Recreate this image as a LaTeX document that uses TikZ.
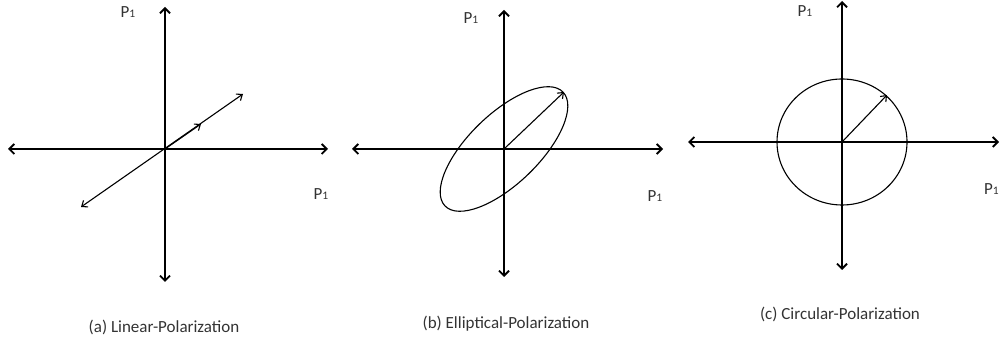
\documentclass[tikz,border=0pt]{standalone}
\usepackage{fontspec}
\setmainfont{Carlito}
\usetikzlibrary{arrows.meta}
\tikzset{
  axis/.style={line width=1.8pt,{Straight Barb[length=5pt,width=10pt]}-{Straight Barb[length=5pt,width=10pt]}},
  vec/.style={line width=1.1pt,-{Straight Barb[length=5pt,width=8pt]}},
  dvec/.style={line width=1.1pt,{Straight Barb[length=5pt,width=8pt]}-{Straight Barb[length=5pt,width=8pt]}},
  curve/.style={line width=1.1pt},
  lbl/.style={anchor=base,inner sep=0pt,text=black!80,font=\fontsize{17}{19}\selectfont},
}
\newcommand{\Pone}{P{\fontsize{11.5}{12}\selectfont 1}}
\begin{document}
\begin{tikzpicture}[x=1pt,y=1pt]
\useasboundingbox (0,0) rectangle (1000,344);
% panel a
\coordinate (a0) at (165,195);
\coordinate (at) at (165,337);
\coordinate (ab) at (165,62);
\coordinate (al) at (8,195);
\coordinate (ar) at (328,195);
\coordinate (aur) at (243,250);
\coordinate (adl) at (81,137);
\coordinate (amid) at (201,220);
\draw[axis] (ab) -- (at);
\draw[axis] (al) -- (ar);
\draw[dvec] (adl) -- (aur);
\draw[vec] (a0) -- (amid);
\node[lbl] (aP1) at (128,326) {\Pone};
\node[lbl] (aP2) at (321,144) {\Pone};
\node[lbl] (acap) at (164,11) {(a) Linear-Polarization};
% panel b
\coordinate (b0) at (504,195);
\coordinate (bt) at (504,334);
\coordinate (bb) at (504,67);
\coordinate (bl) at (352,195);
\coordinate (br) at (663,195);
\coordinate (btip) at (564,252);
\draw[axis] (bb) -- (bt);
\draw[axis] (bl) -- (br);
\draw[curve,rotate around={44:(b0)}] (b0) ellipse [x radius=82, y radius=35];
\draw[vec] (b0) -- (btip);
\node[lbl] (bP1) at (471,320) {\Pone};
\node[lbl] (bP2) at (655,142) {\Pone};
\node[lbl] (bcap) at (506,15) {(b) Elliptical-Polarization};
% panel c
\coordinate (c0) at (842,202);
\coordinate (ct) at (842,343);
\coordinate (cb) at (842,74);
\coordinate (cl) at (688,202);
\coordinate (cr) at (999,202);
\coordinate (ctip) at (887,249);
\draw[axis] (cb) -- (ct);
\draw[axis] (cl) -- (cr);
\draw[curve] (c0) ellipse [x radius=65, y radius=63];
\draw[vec] (c0) -- (ctip);
\node[lbl] (cP1) at (805,327) {\Pone};
\node[lbl,anchor=base west] (cP2) at (984,149) {\Pone};
\node[lbl] (ccap) at (840,24) {(c) Circular-Polarization};
\end{tikzpicture}
\end{document}
